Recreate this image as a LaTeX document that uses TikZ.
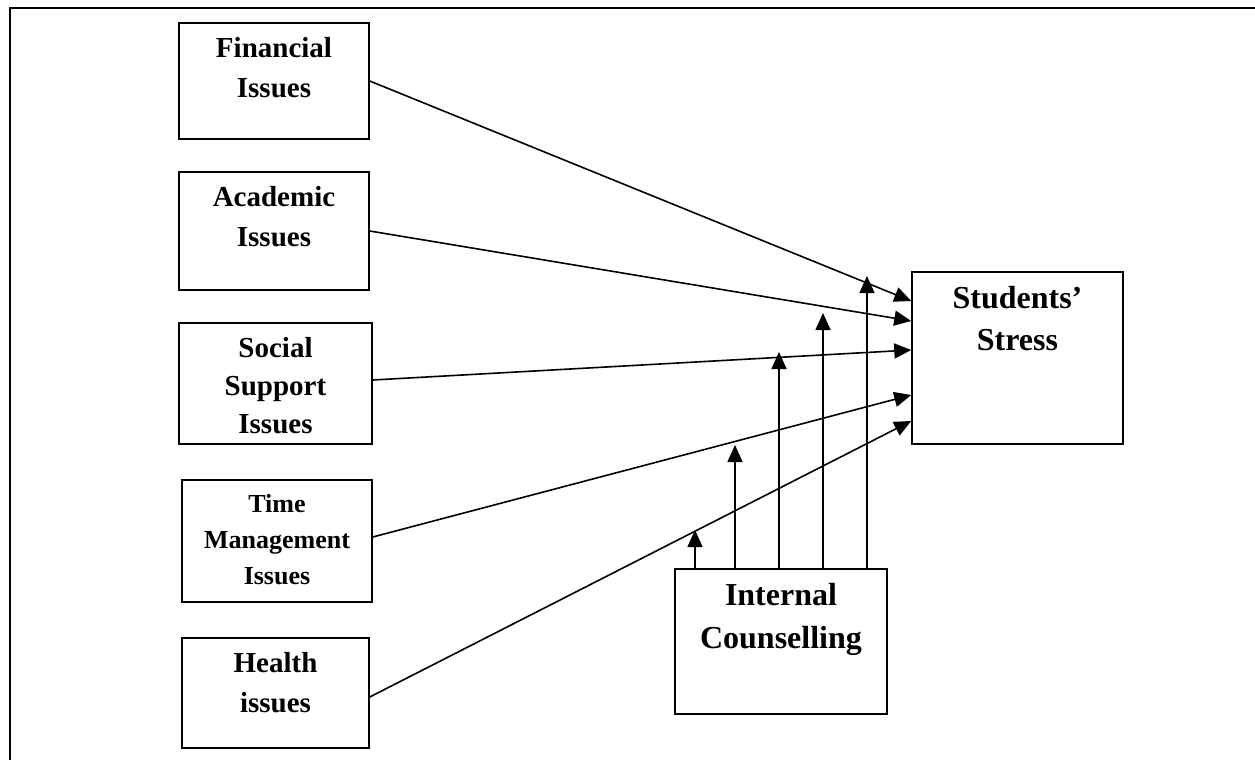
\documentclass[tikz,border=0pt]{standalone}
\usepackage{fontspec}
\setmainfont{Liberation Serif}
\usetikzlibrary{arrows.meta}
\begin{document}
\begin{tikzpicture}[x=1pt,y=-1pt,
  box/.style={draw,line width=1.5pt,rectangle,inner sep=0pt},
  txt/.style={anchor=north,align=center,inner sep=0pt,font=\bfseries\fontsize{29}{40}\selectfont},
  link/.style={line width=1.6pt,-{Triangle[length=17pt,width=15pt]}}]
\useasboundingbox (0,0) rectangle (1255,760);
% partial frame
\draw[line width=2pt] (10,760) -- (10,8) -- (1255,8);

% factor boxes
\node[box,minimum width=190pt,minimum height=116pt] (fin) at (274,81) {};
\node[box,minimum width=190pt,minimum height=118pt] (aca) at (274,231) {};
\node[box,minimum width=193pt,minimum height=121pt] (soc) at (275.5,383.5) {};
\node[box,minimum width=190pt,minimum height=122pt] (tim) at (277,541) {};
\node[box,minimum width=187pt,minimum height=110pt] (hea) at (275.5,693) {};
\node[box,minimum width=211pt,minimum height=172pt] (stu) at (1017.5,358) {};
\node[box,minimum width=212pt,minimum height=145pt] (cou) at (781,641.5) {};

% labels
\node[txt] (fin-t) at (274,37) {Financial\\Issues};
\node[txt] (aca-t) at (274,186) {Academic\\Issues};
\node[txt,font=\bfseries\fontsize{29}{38}\selectfont] (soc-t) at (275.5,337) {Social\\Support\\Issues};
\node[txt,font=\bfseries\fontsize{26}{36}\selectfont] (tim-t) at (277,494) {Time\\Management\\Issues};
\node[txt] (hea-t) at (275.5,652) {Health\\issues};
\node[txt,font=\bfseries\fontsize{32}{42}\selectfont] (stu-t) at (1017.5,286) {Students’\\Stress};
\node[txt,font=\bfseries\fontsize{32}{43}\selectfont] (cou-t) at (781,583) {Internal\\Counselling};

% factor arrows into the outcome
\draw[link] (fin.east) -- ([yshift=57pt]stu.west);
\draw[link] (aca.east) -- ([yshift=37pt]stu.west);
\draw[link] ([yshift=3.5pt]soc.east) -- ([yshift=8pt]stu.west);
\draw[link] ([yshift=4pt]tim.east) -- ([yshift=-37pt]stu.west);
\draw[link] ([yshift=-4pt]hea.east) -- ([yshift=-63pt]stu.west);

% moderating arrows from counselling
\coordinate (m1) at (695,530);
\coordinate (m2) at (735,445);
\coordinate (m3) at (779,352);
\coordinate (m4) at (823,313);
\coordinate (m5) at (867,276);
\draw[link] (cou.north -| m1) -- (m1);
\draw[link] (cou.north -| m2) -- (m2);
\draw[link] (cou.north -| m3) -- (m3);
\draw[link] (cou.north -| m4) -- (m4);
\draw[link] (cou.north -| m5) -- (m5);
\end{tikzpicture}
\end{document}
